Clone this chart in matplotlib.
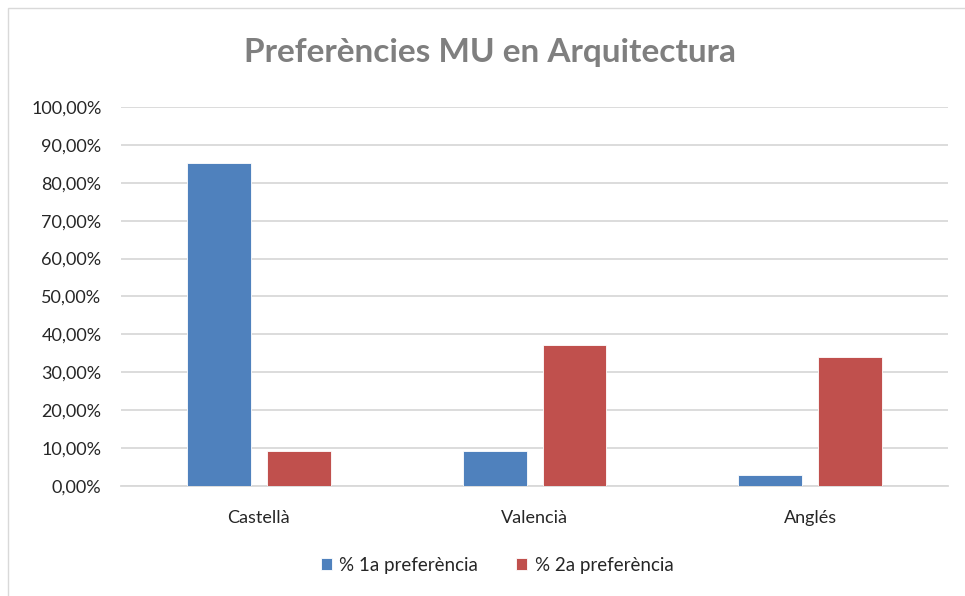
import numpy as np
import matplotlib.pyplot as plt
from matplotlib.ticker import FuncFormatter
from matplotlib.patches import Rectangle

plt.rcParams['font.family'] = ['Lato', 'DejaVu Sans']

categories = ['Castellà', 'Valencià', 'Anglés']
pref1 = [0.851, 0.093, 0.028]
pref2 = [0.091, 0.371, 0.340]
series = {'% 1a preferència': pref1, '% 2a preferència': pref2}
colors = ['#4f81bd', '#c0504d']

fig = plt.figure(figsize=(9.65, 5.96), dpi=100)
ax = fig.add_axes([0.1254, 0.1846, 0.857, 0.636])

x = np.arange(len(categories))
width = 0.232
gap = 0.058
offsets = [-(width + gap) / 2, (width + gap) / 2]
for (label, vals), c, off in zip(series.items(), colors, offsets):
    ax.bar(x + off, vals, width, label=label, color=c, edgecolor='white', linewidth=0.6, zorder=3)

ax.set_xlim(-0.5, len(categories) - 0.5)
ax.set_ylim(0, 1.0)
ax.set_yticks(np.arange(0, 1.01, 0.1))
ax.yaxis.set_major_formatter(FuncFormatter(lambda v, p: f'{v*100:.2f}%'.replace('.', ',')))
ax.set_xticks(x)
ax.set_xticklabels(categories)
ax.grid(axis='y', color='#d9d9d9', linewidth=1.3, zorder=0)
for s in ['top', 'right', 'left']:
    ax.spines[s].set_visible(False)
ax.spines['bottom'].set_color('#d9d9d9')
ax.spines['bottom'].set_linewidth(1.3)
ax.tick_params(axis='both', length=0, labelsize=13, colors='#262626')
ax.tick_params(axis='y', pad=14)
ax.tick_params(axis='x', pad=17)

fig.text(0.508, 0.912, 'Preferències MU en Arquitectura', ha='center', va='center',
         fontsize=24, fontweight='bold', color='#7f7f7f')

fig.legend(loc='center', bbox_to_anchor=(0.515, 0.052), ncols=2, frameon=False,
           fontsize=13.5, handlelength=0.6, handleheight=0.6, handletextpad=0.4,
           columnspacing=2.0, labelcolor='#262626')

fig.patches.append(Rectangle((0.008, -0.01), 1.1, 0.997, transform=fig.transFigure,
                             fill=False, edgecolor='#d9d9d9', linewidth=1))

fig.savefig('out.png', dpi=100)
